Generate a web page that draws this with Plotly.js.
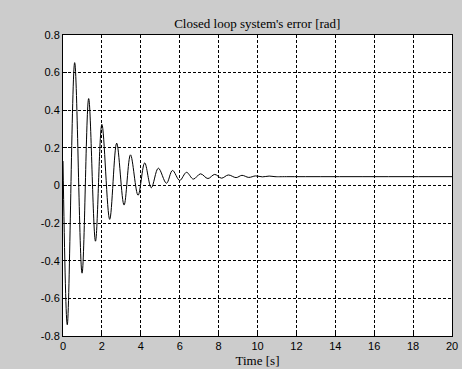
<!DOCTYPE html>
<html>
<head>
<meta charset="utf-8">
<script src="https://cdn.plot.ly/plotly-3.0.1.min.js"></script>
<style>html,body{margin:0;padding:0;background:#cccccc;}#chart{width:462px;height:369px;}</style>
</head>
<body>
<div id="chart"></div>
<script>
// Time [s] read at extrema of the response
const timeS = [0, 0.22, 0.6, 0.98, 1.32, 1.67, 2.0, 2.4, 2.76, 3.14, 3.47, 3.86, 4.2, 4.54, 4.9, 5.32, 5.63, 6.0, 6.35, 6.7, 7.07, 7.45, 7.8, 8.15, 8.5, 8.9, 9.2, 9.55, 9.9, 10.25, 10.6, 10.9, 11.5, 20];
// Error [rad]
const errorRad = [0.13, -0.74, 0.653, -0.466, 0.462, -0.296, 0.325, -0.18, 0.225, -0.104, 0.163, -0.052, 0.12, -0.012, 0.092, 0.012, 0.08, 0.027, 0.07, 0.034, 0.062, 0.037, 0.059, 0.039, 0.056, 0.042, 0.054, 0.043, 0.051, 0.046, 0.05, 0.047, 0.047, 0.047];
const xTicks = [0, 2, 4, 6, 8, 10, 12, 14, 16, 18, 20];
const yTicks = [-0.8, -0.6, -0.4, -0.2, 0, 0.2, 0.4, 0.6, 0.8];
const yTickText = ['-0.8', '-0.6', '-0.4', '-0.2', '0', '0.2', '0.4', '0.6', '0.8'];

const trace = {
  x: timeS, y: errorRad, type: 'scatter', mode: 'lines',
  line: {color: '#000000', width: 1, shape: 'spline', smoothing: 1},
  hoverinfo: 'skip'
};
const axisCommon = {
  showline: true, linecolor: '#000000', linewidth: 1, mirror: true,
  showgrid: true, gridcolor: '#000000', gridwidth: 1, griddash: '3px,2px',
  zeroline: false, ticks: 'inside', ticklen: 4, tickcolor: '#000000',
  tickfont: {family: 'Liberation Sans, Arial, sans-serif', size: 11, color: '#000000'}
};
const layout = {
  width: 462, height: 369,
  paper_bgcolor: '#cccccc', plot_bgcolor: '#ffffff',
  margin: {l: 63, r: 10, t: 35, b: 33},
  showlegend: false,
  title: {text: "Closed loop system's error [rad]", x: 0.557, xanchor: 'center', y: 0.937, yanchor: 'middle',
          font: {family: 'Liberation Serif, Times New Roman, serif', size: 13, color: '#000000'}},
  xaxis: Object.assign({}, axisCommon, {range: [0, 20], tickvals: xTicks, ticktext: xTicks.map(String),
          title: {text: 'Time [s]', standoff: 4, font: {family: 'Liberation Serif, Times New Roman, serif', size: 13, color: '#000000'}}}),
  yaxis: Object.assign({}, axisCommon, {range: [-0.8, 0.8], tickvals: yTicks, ticktext: yTickText})
};
Plotly.newPlot('chart', [trace], layout, {displayModeBar: false, staticPlot: true});
</script>
</body>
</html>
